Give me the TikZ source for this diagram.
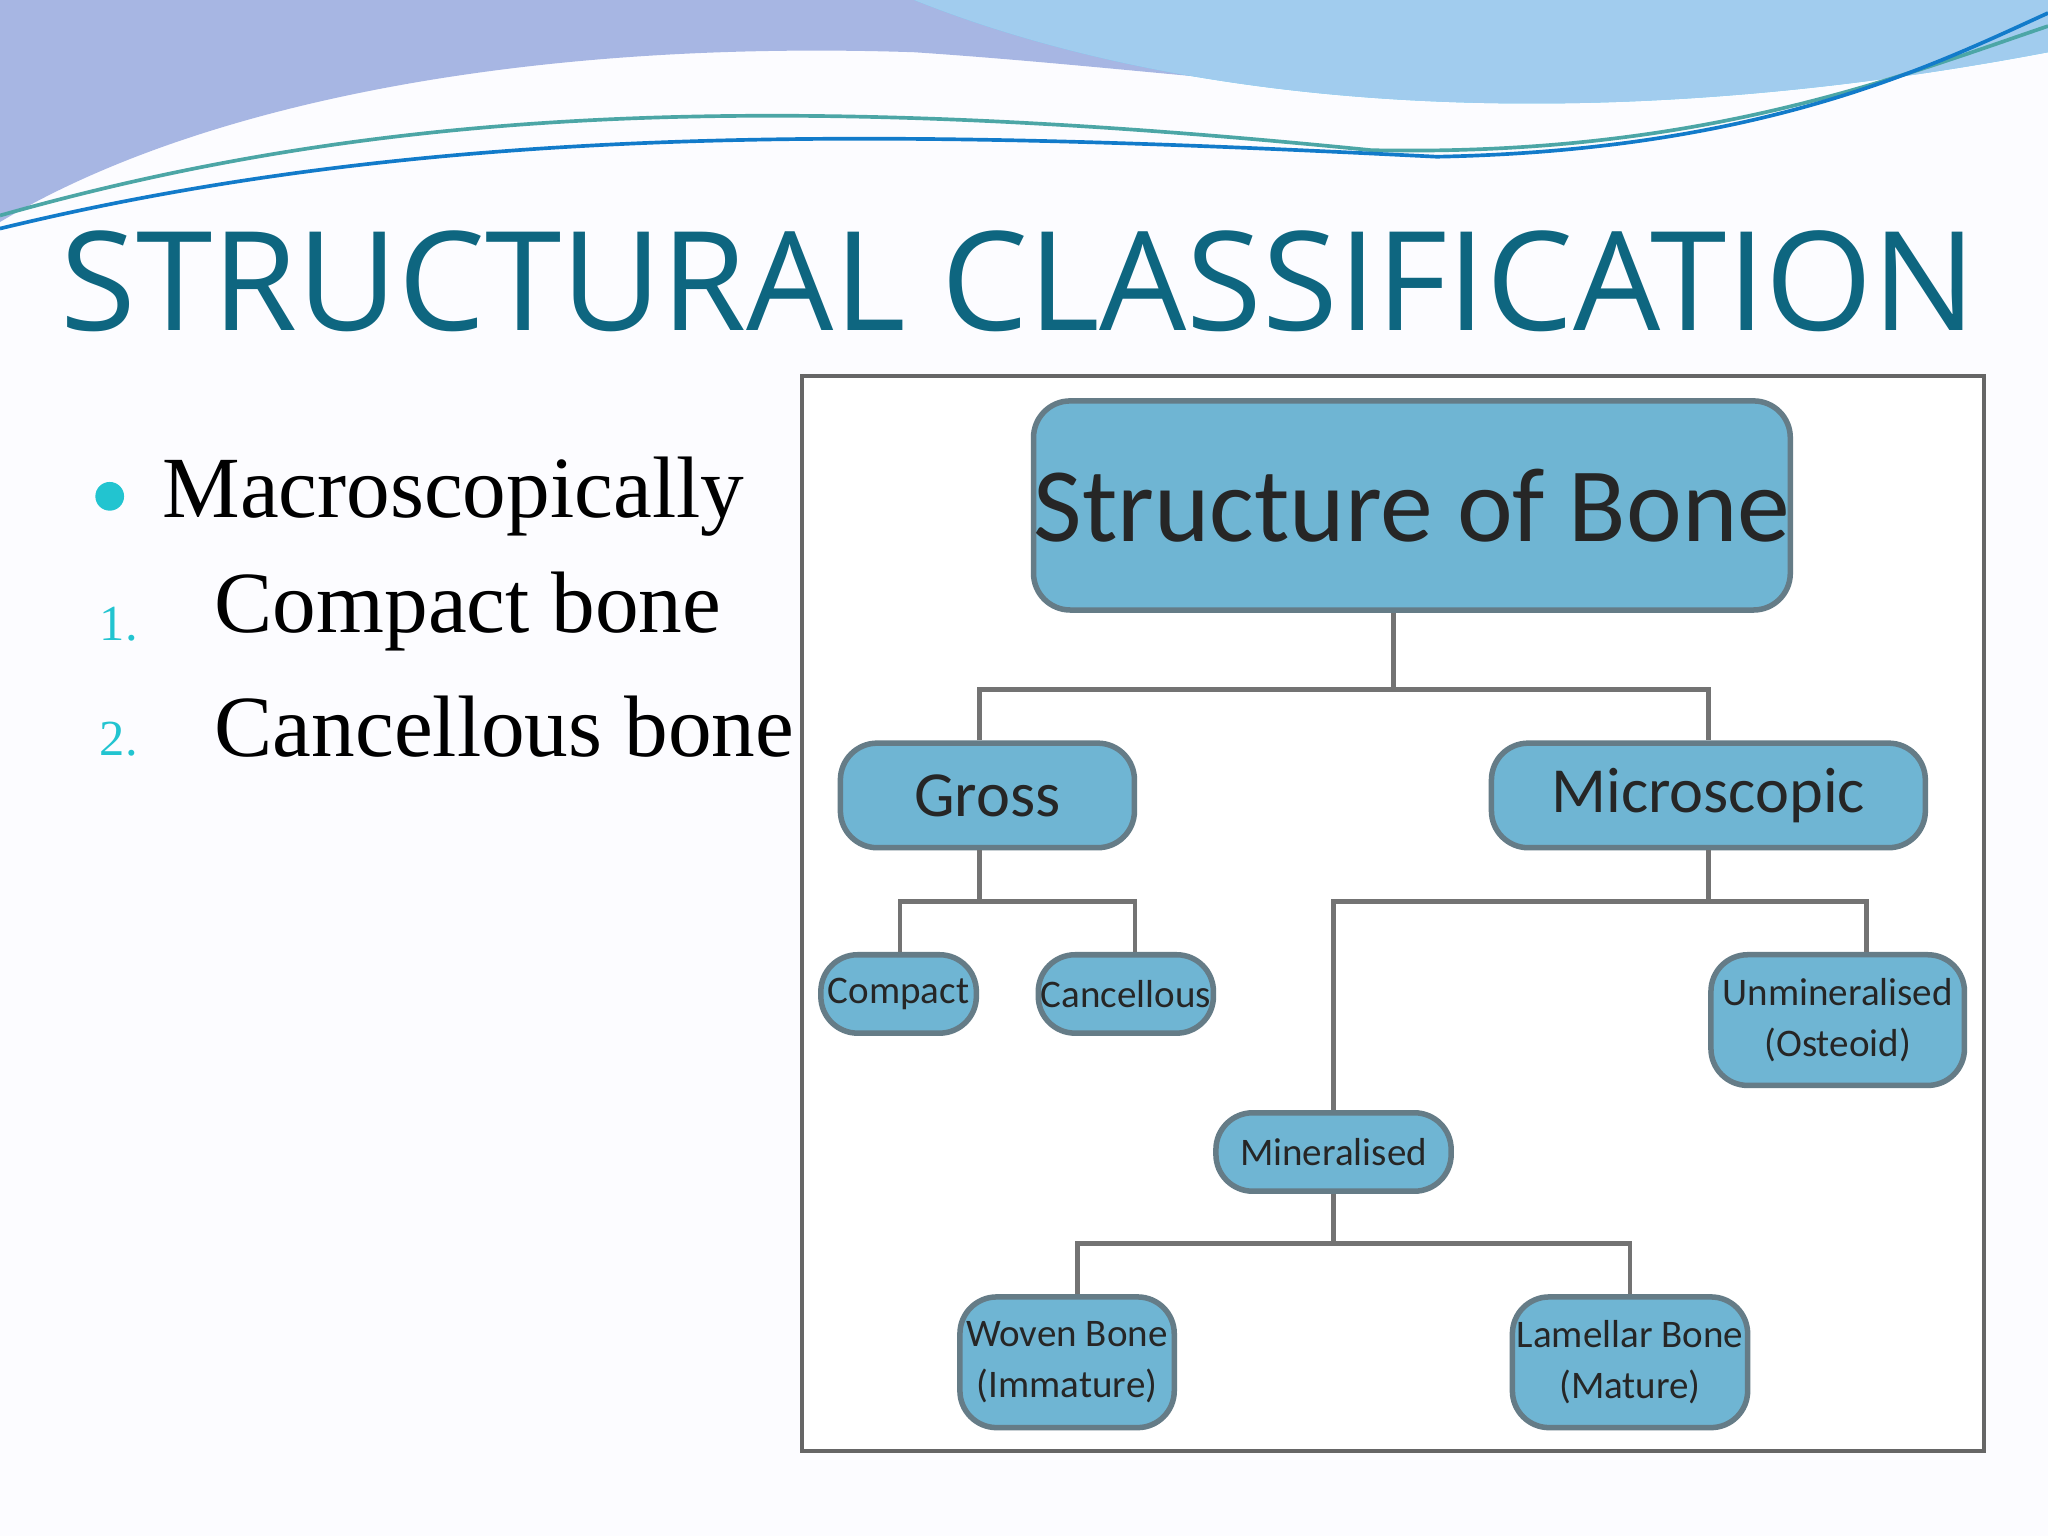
\documentclass[tikz,border=0pt]{standalone}
\usepackage{fontspec}
\setmainfont{Liberation Serif}
\newfontfamily\titlef{Open Sans}
\newfontfamily\boxf{Carlito}
\begin{document}
\begin{tikzpicture}[x={(0.01cm,0)},y={(0,-0.01cm)},
  bx/.style={draw=black!55!cyan!60!gray,line width=1.2pt,fill=boxc,rounded corners=8pt,align=center,inner sep=0pt,text=black!85,font=\boxf},
  ln/.style={draw=gray!90!black,line width=1pt}]
\definecolor{boxc}{HTML}{6FB5D3}
\definecolor{titc}{HTML}{0E6680}
\definecolor{cy}{HTML}{22C4D0}
\useasboundingbox (0,0) rectangle (1568,1176);
\fill[white!94!blue!20] (0,0) rectangle (1568,1176);
% waves
\fill[cyan!40!blue!35] (0,0) -- (1568,0) -- (1568,20) .. controls (1300,120) and (1000,60) .. (700,40) .. controls (400,30) and (150,80) .. (0,170) -- cycle;
\fill[cyan!55!white] (0,0) -- (700,0) .. controls (900,80) and (1200,110) .. (1568,40) -- (1568,0) -- cycle;
\fill[cyan!30!white!90!blue] (700,0) .. controls (900,80) and (1200,110) .. (1568,40) -- (1568,0) -- cycle;
\draw[teal!70,line width=0.8pt] (0,165) .. controls (300,80) and (600,70) .. (1050,115) .. controls (1300,120) and (1450,60) .. (1568,20);
\draw[cyan!60!blue,line width=0.8pt] (0,175) .. controls (350,90) and (700,100) .. (1100,120) .. controls (1350,115) and (1480,50) .. (1568,10);
\node[font=\titlef\fontsize{30}{34}\selectfont,text=titc] (title) at (780,215) {STRUCTURAL CLASSIFICATION};
% list
\fill[cy] (84,380) circle (11);
\node[anchor=west,font=\fontsize{19}{22}\selectfont] (l0) at (112,380) {Macroscopically};
\node[anchor=west,font=\fontsize{11}{13}\selectfont,text=cy] (n1) at (64,478) {1.};
\node[anchor=west,font=\fontsize{19}{22}\selectfont] (l1) at (152,468) {Compact bone};
\node[anchor=west,font=\fontsize{11}{13}\selectfont,text=cy] (n2) at (64,566) {2.};
\node[anchor=west,font=\fontsize{19}{22}\selectfont] (l2) at (152,556) {Cancellous bone};
% frame
\draw[gray!80!black,line width=1pt,fill=white] (614,288) rectangle (1519,1111);
% boxes
\node[bx,minimum width=5.13cm,minimum height=1.6cm,font=\boxf\fontsize{23}{26}\selectfont] (sob) at (1081,387) {Structure of Bone};
\node[bx,minimum width=2.25cm,minimum height=0.8cm,font=\boxf\fontsize{14}{16}\selectfont] (gross) at (756,609) {Gross};
\node[bx,minimum width=3.32cm,minimum height=0.8cm,font=\boxf\fontsize{14}{16}\selectfont] (micro) at (1308,609) {Microscopic};
\node[bx,minimum width=1.19cm,minimum height=0.6cm,font=\boxf\fontsize{8.5}{10}\selectfont] (comp) at (688,761) {Compact};
\node[bx,minimum width=1.34cm,minimum height=0.6cm,font=\boxf\fontsize{8.5}{10}\selectfont] (canc) at (862,761) {Cancellous};
\node[bx,minimum width=1.94cm,minimum height=1.0cm,font=\boxf\fontsize{8.5}{11}\selectfont] (unmin) at (1407,781) {Unmineralised\\(Osteoid)};
\node[bx,minimum width=1.8cm,minimum height=0.6cm,font=\boxf\fontsize{8.5}{10}\selectfont] (min) at (1021,882) {Mineralised};
\node[bx,minimum width=1.64cm,minimum height=1.0cm,font=\boxf\fontsize{8.5}{11}\selectfont] (woven) at (817,1043) {Woven Bone\\(Immature)};
\node[bx,minimum width=1.8cm,minimum height=1.0cm,font=\boxf\fontsize{8.5}{11}\selectfont] (lam) at (1248,1043) {Lamellar Bone\\(Mature)};
% connectors
\coordinate (j1) at (1067,528);
\draw[ln] (sob.south -| j1) -- (j1);
\draw[ln] (gross.north -| 750,0) -- (750,528) -- (1308,528) -- (micro.north -| 1308,0);
\draw[ln] (gross.south -| 750,0) -- (750,690);
\draw[ln] (comp.north -| 689,0) -- (689,690) -- (869,690) -- (canc.north -| 869,0);
\draw[ln] (micro.south -| 1308,0) -- (1308,690);
\draw[ln] (min.north -| 1021,0) -- (1021,690) -- (1429,690) -- (unmin.north -| 1429,0);
\draw[ln] (min.south -| 1021,0) -- (1021,952);
\draw[ln] (woven.north -| 825,0) -- (825,952) -- (1248,952) -- (lam.north);
\end{tikzpicture}
\end{document}
